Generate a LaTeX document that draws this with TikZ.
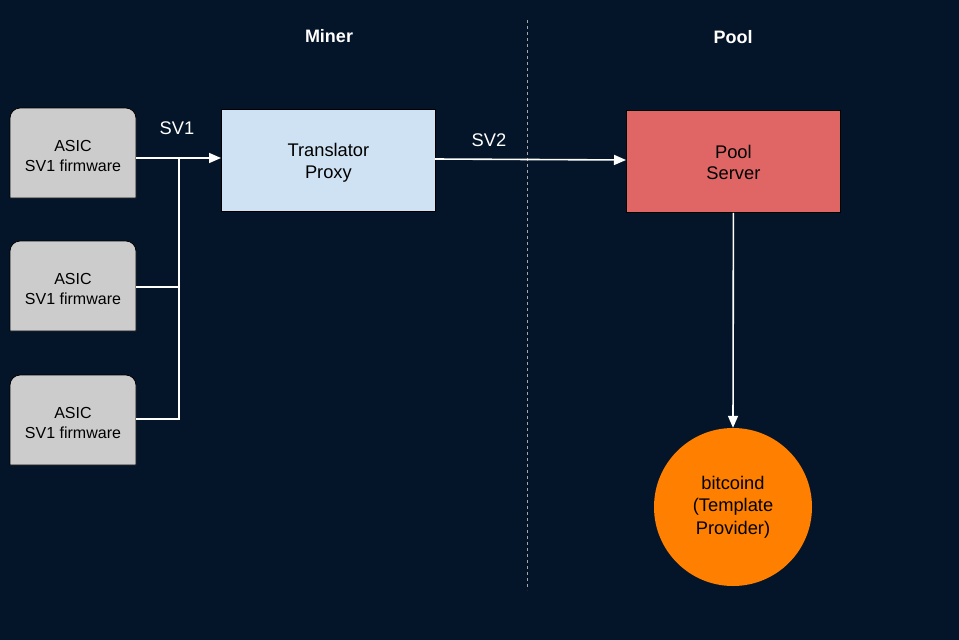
\documentclass[tikz,border=0pt]{standalone}
\usepackage{fontspec}
\setmainfont{Liberation Sans}
\usetikzlibrary{arrows.meta}
\definecolor{bg}{HTML}{051529}
\definecolor{asicgray}{HTML}{CCCCCC}
\definecolor{proxyblue}{HTML}{CFE2F3}
\definecolor{poolred}{HTML}{E06666}
\definecolor{btcorange}{HTML}{FF8000}
\tikzset{
  x=1pt, y=-1pt,
  asicbox/.style={fill=asicgray, draw=black, line width=0.8pt, rounded corners=10pt},
  asictext/.style={font=\fontsize{16}{19.5}\selectfont, align=center, text=black},
  boxtext/.style={font=\fontsize{18.3}{21.5}\selectfont, align=center, text=black},
  conn/.style={draw=white, line width=1.6pt},
  arr/.style={conn, -{Triangle[length=12pt,width=10pt]}},
  lbl/.style={font=\fontsize{18.3}{20}\selectfont, text=white},
  head/.style={font=\bfseries\fontsize{18}{20}\selectfont, text=white},
}
\begin{document}
\begin{tikzpicture}
\fill[bg] (0,0) rectangle (959,640);
\useasboundingbox (0,0) rectangle (959,640);
% divider
\draw[gray!70, line width=0.9pt, dash pattern=on 3pt off 3pt] (527,20) -- (527,590);
% headings
\node[head] (miner) at (329,36) {Miner};
\node[head] (pool) at (733,37) {Pool};
% ASIC boxes (rounded top corners only)
\foreach \y/\n in {108/a1,241/a2,375/a3}{
  \draw[asicbox] (10,\y+90) {[sharp corners] -- (10,\y+45)} -- (10,\y) -- (136,\y) {[rounded corners=0pt] -- (136,\y+90) -- cycle};
  \node[asictext] (\n) at (73,\y+48) {ASIC\\SV1 firmware};
}
% Translator proxy
\node[draw=black, line width=0.8pt, fill=proxyblue, minimum width=214pt, minimum height=102pt, anchor=north west] (tp) at (221,109) {};
\node[boxtext] (tpt) at ([yshift=-2.5pt]tp.center) {Translator\\Proxy};
% Pool server
\node[draw=black, line width=0.8pt, fill=poolred, minimum width=214pt, minimum height=102pt, anchor=north west] (ps) at (626,110) {};
\node[boxtext] (pst) at ([yshift=-1pt]ps.center) {Pool\\Server};
% bitcoind
\node[circle, fill=btcorange, minimum size=158pt, inner sep=0pt] (btc) at (733,507) {};
\node[boxtext, font=\fontsize{18.3}{22.5}\selectfont] (btct) at (btc.center) {bitcoind\\(Template\\Provider)};
% connectors
\coordinate (j1) at (179,158);
\coordinate (j2) at (179,287);
\coordinate (j3) at (179,419);
\draw[arr] (136,158) -- (tp.west |- 0,158);
\draw[conn] (136,287) -- (j2);
\draw[conn] (136,419) -- (j3) -- (j1);
\draw[arr] (435,159) -- (ps.west |- 0,160);
\draw[arr] (ps.south) -- (btc.north);
% labels
\node[lbl] (sv1) at (177,128) {SV1};
\node[lbl] (sv2) at (489,140) {SV2};
\end{tikzpicture}
\end{document}
